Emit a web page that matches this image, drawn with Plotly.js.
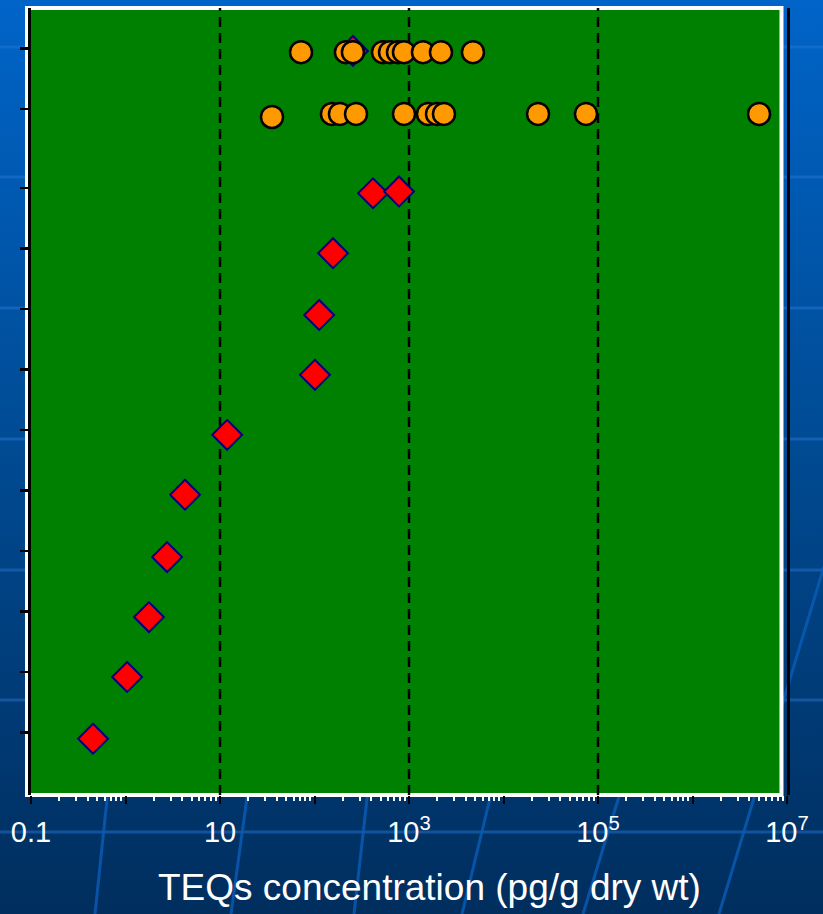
<!DOCTYPE html>
<html>
<head>
<meta charset="utf-8">
<script src="https://cdn.plot.ly/plotly-3.0.1.min.js"></script>
<style>
  html, body { margin: 0; padding: 0; width: 823px; height: 914px; overflow: hidden; }
  #bg { position: absolute; left: 0; top: 0; width: 823px; height: 914px; }
  #chart { position: absolute; left: 0; top: 0; width: 823px; height: 914px; }
</style>
</head>
<body>
<svg id="bg" width="823" height="914" xmlns="http://www.w3.org/2000/svg">
  <defs>
    <linearGradient id="g" x1="0" y1="0" x2="0" y2="1">
      <stop offset="0" stop-color="#0064c8"/>
      <stop offset="0.5" stop-color="#004a92"/>
      <stop offset="1" stop-color="#002e5e"/>
    </linearGradient>
  </defs>
  <rect x="0" y="0" width="823" height="914" fill="url(#g)"/>
  <g stroke="#2a7ad6" stroke-opacity="0.45" stroke-width="3">
    <line x1="0" y1="47" x2="823" y2="47"/>
    <line x1="0" y1="177" x2="823" y2="177"/>
    <line x1="0" y1="308" x2="823" y2="308"/>
    <line x1="0" y1="439" x2="823" y2="439"/>
    <line x1="0" y1="570" x2="823" y2="570"/>
    <line x1="0" y1="700" x2="823" y2="700"/>
    <line x1="0" y1="832" x2="823" y2="832"/>
  </g>
  <g stroke="#0a5cb8" stroke-opacity="0.8" stroke-width="3">
    <line x1="108" y1="790" x2="95" y2="914"/>
    <line x1="248" y1="790" x2="231" y2="914"/>
    <line x1="368" y1="790" x2="354" y2="914"/>
    <line x1="492" y1="790" x2="462" y2="914"/>
    <line x1="621" y1="790" x2="583" y2="914"/>
    <line x1="835" y1="530" x2="719" y2="914"/>
  </g>
</svg>
<div id="chart"></div>
<script>
// ---- data ----
// x: TEQs concentration (pg/g dry wt); y: row position on the chart
var circlesUpperX = [72, 215, 255, 531, 630, 765, 885, 1406, 2180, 4750];
var circlesUpperY = [12.24, 12.24, 12.24, 12.24, 12.24, 12.24, 12.24, 12.24, 12.24, 12.24];
var circlesLowerX = [35.5, 153, 186, 275, 885, 1589, 1979, 2345, 23200, 74600, 5060000];
var circlesLowerY = [11.17, 11.22, 11.22, 11.22, 11.22, 11.22, 11.22, 11.22, 11.22, 11.22, 11.22];
var diamondX = [255, 0.453, 1.04, 1.77, 2.75, 4.26, 11.9, 101, 112, 157, 416, 784];
var diamondY = [12.26, 0.90, 1.92, 2.91, 3.90, 4.93, 5.92, 6.91, 7.90, 8.92, 9.91, 9.94];
var refLines = [10, 1000, 100000];
var xLabelVals = [0.1, 10, 1000, 100000, 10000000];
var xLabelText = ['0.1', '10', '10<sup>3</sup>', '10<sup>5</sup>', '10<sup>7</sup>'];
var xDecadeVals = [0.1, 1, 10, 100, 1000, 10000, 100000, 1000000, 10000000];
var yTickVals = [1, 2, 3, 4, 5, 6, 7, 8, 9, 10, 11.3, 12.3];
var xTitle = 'TEQs concentration (pg/g dry wt)';

// minor ticks 2..9 in each decade
var minorVals = [];
for (var e = -1; e < 7; e++) {
  for (var m = 2; m <= 9; m++) minorVals.push(m * Math.pow(10, e));
}

var FONT = 'Arial, "Liberation Sans", sans-serif';

var traces = [
  {
    type: 'scatter', mode: 'markers', x: diamondX, y: diamondY,
    marker: { symbol: 'diamond', size: 23, color: '#ff0000', line: { color: '#000080', width: 2 } },
    hoverinfo: 'x'
  },
  {
    type: 'scatter', mode: 'markers', x: circlesLowerX, y: circlesLowerY,
    marker: { symbol: 'circle', size: 22, color: '#ff9900', line: { color: '#000000', width: 2.5 } },
    hoverinfo: 'x'
  },
  {
    type: 'scatter', mode: 'markers', x: circlesUpperX, y: circlesUpperY,
    marker: { symbol: 'circle', size: 22, color: '#ff9900', line: { color: '#000000', width: 2.5 } },
    hoverinfo: 'x'
  },
  // empty trace so the tick-only decade axis is drawn
  { type: 'scatter', mode: 'markers', x: [], y: [], xaxis: 'x2', yaxis: 'y', hoverinfo: 'skip' }
];

var shapes = [
  {
    type: 'rect', xref: 'paper', yref: 'paper', x0: -0.0053, x1: 0.9927, y0: 0, y1: 1,
    fillcolor: '#008000', line: { color: '#ffffff', width: 4 }, layer: 'below'
  }
];
refLines.forEach(function (v) {
  shapes.push({
    type: 'line', xref: 'x', yref: 'paper', x0: v, x1: v, y0: 0, y1: 1,
    line: { color: '#000000', width: 2.5, dash: '10px,6px' }, layer: 'below'
  });
});

var layout = {
  width: 823, height: 914,
  margin: { l: 31, r: 36, t: 8, b: 119 },
  paper_bgcolor: 'rgba(0,0,0,0)',
  plot_bgcolor: 'rgba(0,0,0,0)',
  showlegend: false,
  font: { family: FONT, color: '#ffffff' },
  xaxis: {
    type: 'log', range: [-1, 7],
    tickmode: 'array', tickvals: xLabelVals, ticktext: xLabelText,
    ticks: 'outside', ticklen: 8, tickwidth: 2, tickcolor: '#000000',
    ticklabelstandoff: 3,
    tickfont: { family: FONT, size: 29, color: '#ffffff' },
    showgrid: false, zeroline: false, showline: false,
    fixedrange: true
  },
  xaxis2: {
    type: 'log', range: [-1, 7], overlaying: 'x', side: 'bottom', anchor: 'y',
    tickmode: 'array', tickvals: xDecadeVals, showticklabels: false,
    ticks: 'outside', ticklen: 8, tickwidth: 2, tickcolor: '#000000',
    minor: { tickmode: 'array', tickvals: minorVals, ticks: 'outside', ticklen: 5, tickwidth: 2, tickcolor: '#ffffff', showgrid: false },
    showgrid: false, zeroline: false, showline: false,
    fixedrange: true
  },
  yaxis: {
    range: [-0.03, 12.97],
    tickmode: 'array', tickvals: yTickVals, showticklabels: false,
    ticks: 'outside', ticklen: 8, tickwidth: 2.5, tickcolor: '#000000',
    showline: true, linecolor: '#000000', linewidth: 3, mirror: true,
    showgrid: false, zeroline: false, fixedrange: true
  },
  shapes: shapes,
  annotations: [
    {
      xref: 'paper', yref: 'paper', x: 0.5265, y: -0.118,
      xanchor: 'center', yanchor: 'middle', showarrow: false,
      text: xTitle, font: { family: FONT, size: 37, color: '#ffffff' }
    }
  ]
};

Plotly.newPlot('chart', traces, layout, { displayModeBar: false, staticPlot: true });
</script>
</body>
</html>
